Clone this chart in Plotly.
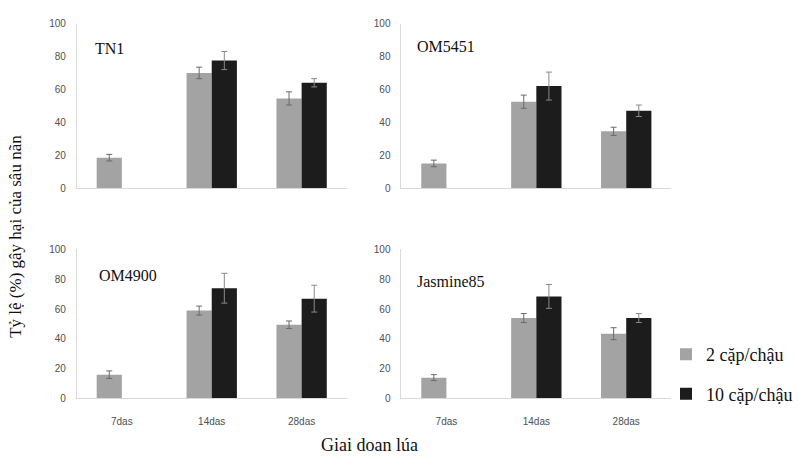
import plotly.graph_objects as go

W, H = 798, 460

stages = ["7das", "14das", "28das"]
varieties = ["TN1", "OM5451", "OM4900", "Jasmine85"]
series_names = ["2 cặp/chậu", "10 cặp/chậu"]

# values: 2 pairs/pot, 10 pairs/pot (7das has no 10-pair bar)
tn1_2 = [18.5, 70, 54.5]
tn1_2_err = [2, 3.5, 4]
tn1_10 = [None, 77.5, 64]
tn1_10_err = [0, 5.5, 2.5]

om5451_2 = [15, 52.5, 34.5]
om5451_2_err = [2, 4, 2.5]
om5451_10 = [None, 62, 47]
om5451_10_err = [0, 8.5, 3.5]

om4900_2 = [16, 59, 49.5]
om4900_2_err = [2.5, 3, 2.5]
om4900_10 = [None, 74, 67]
om4900_10_err = [0, 10, 9]

jas_2 = [14, 54, 43.5]
jas_2_err = [2, 3, 4]
jas_10 = [None, 68.5, 54]
jas_10_err = [0, 8, 3]

data = [
    (tn1_2, tn1_2_err, tn1_10, tn1_10_err),
    (om5451_2, om5451_2_err, om5451_10, om5451_10_err),
    (om4900_2, om4900_2_err, om4900_10, om4900_10_err),
    (jas_2, jas_2_err, jas_10, jas_10_err),
]

GRAY = "#a3a3a3"
BLACK = "#1c1c1c"
AXC = "#d9d9d9"
TICKC = "#505050"
SERIF = "Liberation Serif"
SANS = "Liberation Sans"

# panel boxes in pixels: (x0, x1, ytop, ybottom)
boxes = [
    (77, 347, 18, 187),
    (402, 672, 18, 187),
    (77, 347, 250, 403),
    (402, 672, 250, 403),
]
title_pos = [(93, 44), (416, 42), (97, 277), (416, 283)]

fig = go.Figure()
for i, (v2, e2, v10, e10) in enumerate(data):
    ax = "" if i == 0 else str(i + 1)
    fig.add_trace(go.Bar(
        x=stages, y=v2, name=series_names[0], marker_color=GRAY, marker_line_width=0,
        error_y=dict(type="data", array=e2, color="#6a6a6a", thickness=1, width=3),
        xaxis="x" + ax, yaxis="y" + ax, showlegend=(i == 0), legendgroup="a",
        offsetgroup="a"))
    fig.add_trace(go.Bar(
        x=stages, y=v10, name=series_names[1], marker_color=BLACK, marker_line_width=0,
        error_y=dict(type="data", array=e10, color="#8a8a8a", thickness=1, width=3),
        xaxis="x" + ax, yaxis="y" + ax, showlegend=(i == 0), legendgroup="b",
        offsetgroup="b"))

    x0, x1, yt, yb = boxes[i]
    xd = [x0 / W, x1 / W]
    yd = [1 - yb / H, 1 - yt / H]
    bottom = i >= 2
    fig.update_layout(**{
        "xaxis" + ax: dict(domain=xd, anchor="y" + ax, showline=True, linecolor=AXC,
                           linewidth=1, showgrid=False, zeroline=False,
                           showticklabels=bottom, ticklabelstandoff=14,
                           tickfont=dict(family=SANS, size=10, color=TICKC),
                           ticks="", fixedrange=True),
        "yaxis" + ax: dict(domain=yd, anchor="x" + ax, range=[0, 100], dtick=20,
                           showline=True, linecolor=AXC, linewidth=1, showgrid=False,
                           zeroline=False, ticks="", ticklabelstandoff=8,
                           tickfont=dict(family=SANS, size=10, color=TICKC)),
    })
    tx, ty = title_pos[i]
    fig.add_annotation(text=varieties[i], x=tx / W, y=1 - ty / H, xref="paper", yref="paper",
                       xanchor="left", yanchor="middle", showarrow=False,
                       font=dict(family=SERIF, size=16, color="#111"))

fig.add_annotation(text="Tỷ lệ (%) gây hại của sâu nãn", x=16 / W, y=1 - 236 / H,
                   xref="paper", yref="paper", textangle=-90, showarrow=False,
                   xanchor="center", yanchor="middle",
                   font=dict(family=SERIF, size=17, color="#111"))
fig.add_annotation(text="Giai doan lúa", x=370 / W, y=1 - 451 / H,
                   xref="paper", yref="paper", showarrow=False,
                   xanchor="center", yanchor="middle",
                   font=dict(family=SERIF, size=18, color="#111"))

fig.update_layout(
    width=W, height=H, margin=dict(l=0, r=0, t=0, b=0),
    paper_bgcolor="white", plot_bgcolor="white",
    barmode="group", bargap=0.44, bargroupgap=0,
    legend=dict(x=667 / W, y=1 - 339 / H, xanchor="left", yanchor="top",
                font=dict(family=SERIF, size=18, color="#111"),
                tracegroupgap=13, bgcolor="rgba(0,0,0,0)", borderwidth=0,
                itemwidth=30),
)

fig.write_html("out.html")
